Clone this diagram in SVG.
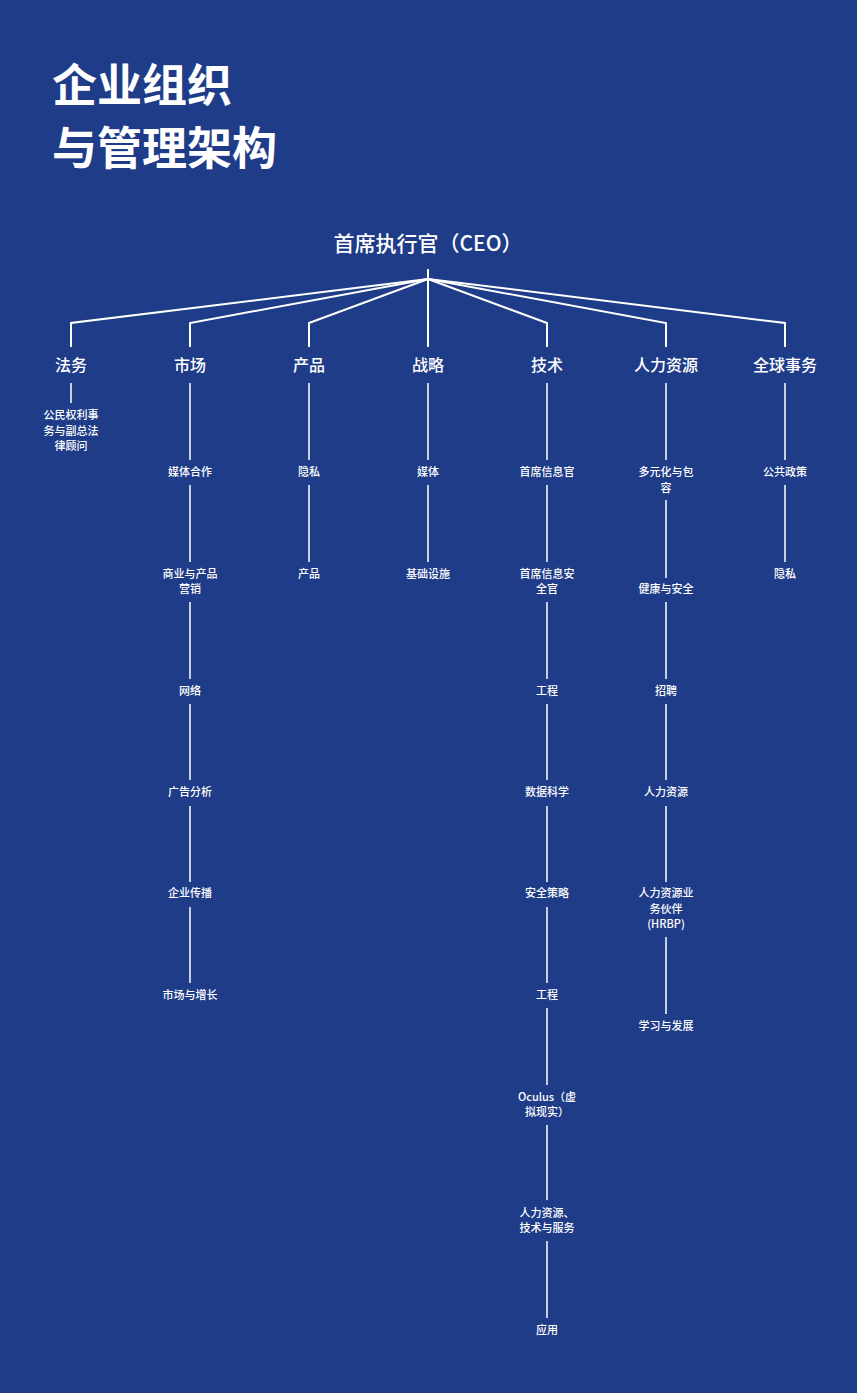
<svg xmlns="http://www.w3.org/2000/svg" width="857" height="1393" viewBox="0 0 857 1393">
<style>
text{font-family:"Noto Sans CJK SC","Noto Sans",sans-serif;fill:#ffffff;}
.title{font-size:45px;font-weight:700;}
.ceo{font-size:21px;font-weight:500;text-anchor:middle;}
.l1{font-size:16px;font-weight:500;text-anchor:middle;}
.sub{font-size:11px;font-weight:500;text-anchor:middle;}
.fan{fill:none;stroke:#ffffff;stroke-width:2;}
.vl{fill:none;stroke:#ffffff;stroke-width:1.5;}
</style>
<rect x="0" y="0" width="857" height="1393" fill="#1f3c88"/>
<g id="title">
<text class="title" x="52" y="102">企业组织</text>
<text class="title" x="52" y="165">与管理架构</text>
</g>
<g id="connectors">
<line class="fan" x1="428" y1="269" x2="428" y2="347"/>
<polyline class="fan" points="428,279 71,323 71,347"/>
<polyline class="fan" points="428,279 190,323 190,347"/>
<polyline class="fan" points="428,279 309,323 309,347"/>
<polyline class="fan" points="428,279 547,323 547,347"/>
<polyline class="fan" points="428,279 666,323 666,347"/>
<polyline class="fan" points="428,279 785,323 785,347"/>
<line class="vl" x1="71" y1="383" x2="71" y2="403"/>
<line class="vl" x1="190" y1="383" x2="190" y2="460"/>
<line class="vl" x1="190" y1="485" x2="190" y2="562"/>
<line class="vl" x1="190" y1="602" x2="190" y2="679"/>
<line class="vl" x1="190" y1="704" x2="190" y2="780"/>
<line class="vl" x1="190" y1="806" x2="190" y2="882"/>
<line class="vl" x1="190" y1="907" x2="190" y2="983"/>
<line class="vl" x1="309" y1="383" x2="309" y2="460"/>
<line class="vl" x1="309" y1="485" x2="309" y2="562"/>
<line class="vl" x1="428" y1="383" x2="428" y2="460"/>
<line class="vl" x1="428" y1="485" x2="428" y2="562"/>
<line class="vl" x1="547" y1="383" x2="547" y2="460"/>
<line class="vl" x1="547" y1="485" x2="547" y2="562"/>
<line class="vl" x1="547" y1="602" x2="547" y2="679"/>
<line class="vl" x1="547" y1="704" x2="547" y2="780"/>
<line class="vl" x1="547" y1="806" x2="547" y2="882"/>
<line class="vl" x1="547" y1="907" x2="547" y2="983"/>
<line class="vl" x1="547" y1="1008" x2="547" y2="1085"/>
<line class="vl" x1="547" y1="1125" x2="547" y2="1200"/>
<line class="vl" x1="547" y1="1241" x2="547" y2="1318"/>
<line class="vl" x1="666" y1="383" x2="666" y2="460"/>
<line class="vl" x1="666" y1="500" x2="666" y2="578"/>
<line class="vl" x1="666" y1="602" x2="666" y2="679"/>
<line class="vl" x1="666" y1="704" x2="666" y2="780"/>
<line class="vl" x1="666" y1="806" x2="666" y2="882"/>
<line class="vl" x1="666" y1="937" x2="666" y2="1014"/>
<line class="vl" x1="785" y1="383" x2="785" y2="460"/>
<line class="vl" x1="785" y1="485" x2="785" y2="562"/>
</g>
<g id="ceo"><text class="ceo" x="428" y="251">首席执行官（CEO）</text></g>
<g id="legal">
<text class="l1" x="71" y="371">法务</text>
<text class="sub" x="71" y="419">公民权利事</text>
<text class="sub" x="71" y="435">务与副总法</text>
<text class="sub" x="71" y="450">律顾问</text>
</g>
<g id="marketing">
<text class="l1" x="190" y="371">市场</text>
<text class="sub" x="190" y="476">媒体合作</text>
<text class="sub" x="190" y="578">商业与产品</text>
<text class="sub" x="190" y="593">营销</text>
<text class="sub" x="190" y="695">网络</text>
<text class="sub" x="190" y="796">广告分析</text>
<text class="sub" x="190" y="897">企业传播</text>
<text class="sub" x="190" y="999">市场与增长</text>
</g>
<g id="product">
<text class="l1" x="309" y="371">产品</text>
<text class="sub" x="309" y="476">隐私</text>
<text class="sub" x="309" y="578">产品</text>
</g>
<g id="strategy">
<text class="l1" x="428" y="371">战略</text>
<text class="sub" x="428" y="476">媒体</text>
<text class="sub" x="428" y="578">基础设施</text>
</g>
<g id="technology">
<text class="l1" x="547" y="371">技术</text>
<text class="sub" x="547" y="476">首席信息官</text>
<text class="sub" x="547" y="578">首席信息安</text>
<text class="sub" x="547" y="593">全官</text>
<text class="sub" x="547" y="695">工程</text>
<text class="sub" x="547" y="796">数据科学</text>
<text class="sub" x="547" y="897">安全策略</text>
<text class="sub" x="547" y="999">工程</text>
<text class="sub" x="547" y="1101">Oculus（虚</text>
<text class="sub" x="547" y="1116">拟现实）</text>
<text class="sub" x="547" y="1217">人力资源、</text>
<text class="sub" x="547" y="1232">技术与服务</text>
<text class="sub" x="547" y="1334">应用</text>
</g>
<g id="hr">
<text class="l1" x="666" y="371">人力资源</text>
<text class="sub" x="666" y="476">多元化与包</text>
<text class="sub" x="666" y="492">容</text>
<text class="sub" x="666" y="593">健康与安全</text>
<text class="sub" x="666" y="695">招聘</text>
<text class="sub" x="666" y="796">人力资源</text>
<text class="sub" x="666" y="897">人力资源业</text>
<text class="sub" x="666" y="913">务伙伴</text>
<text class="sub" x="666" y="928">(HRBP)</text>
<text class="sub" x="666" y="1030">学习与发展</text>
</g>
<g id="global">
<text class="l1" x="785" y="371">全球事务</text>
<text class="sub" x="785" y="476">公共政策</text>
<text class="sub" x="785" y="578">隐私</text>
</g>
</svg>
